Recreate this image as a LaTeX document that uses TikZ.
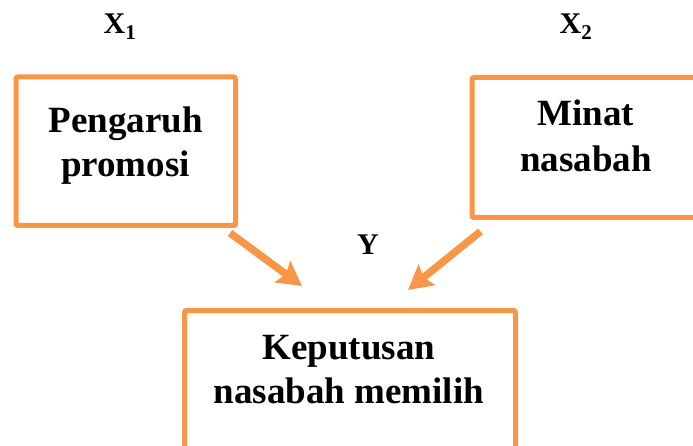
\documentclass[tikz,border=0pt]{standalone}
\usepackage{fontspec}
\setmainfont{Liberation Serif}
\usetikzlibrary{arrows.meta,calc}
\definecolor{boxorange}{HTML}{F79646}
\tikzset{
  varbox/.style={draw=boxorange, line width=5pt, rounded corners=2pt, inner sep=0pt},
  boxtext/.style={font=\bfseries\fontsize{37}{44}\selectfont, align=center, inner sep=0pt},
  vartag/.style={font=\bfseries\fontsize{30}{36}\selectfont, inner sep=0pt, anchor=base},
  influence/.style={draw=boxorange, line width=7.5pt, -{Stealth[length=24pt,width=26pt,inset=4pt]}}
}
\begin{document}
\begin{tikzpicture}[x=1pt, y=-1pt]
  \useasboundingbox (0,0) rectangle (693,446);
  \begin{scope}
    \clip (0,0) rectangle (693,446);
    % the three variable boxes
    \node[varbox, minimum width=219.5pt, minimum height=148.5pt] (promo) at (125.75,151.25) {};
    \node[varbox, minimum width=229pt, minimum height=140pt] (minat) at (586.5,147.5) {};
    \node[varbox, minimum width=331pt, minimum height=160pt] (putus) at (350,390.5) {};
  \end{scope}
  % box texts
  \node[boxtext] (promotxt) at (125.5,146) {Pengaruh\\promosi};
  \node[boxtext] (minattxt) at (586,136) {Minat\\[2pt]nasabah};
  \node[boxtext] (putustxt) at (349,370) {Keputusan\\nasabah memilih};
  % variable labels
  \node[vartag] (x1) at (120,34) {X\textsubscript{1}};
  \node[vartag] (x2) at (576,34) {X\textsubscript{2}};
  \node[vartag] (y) at (368,254.5) {Y};
  % arrows from the independent variables to the decision
  \coordinate (a1s) at ($(promo.south east)+(-8,5)$);
  \coordinate (a1e) at (302,286);
  \coordinate (a2s) at ($(minat.south west)+(11,11.5)$);
  \coordinate (a2e) at (408,290);
  \draw[influence] (a1s) -- (a1e);
  \draw[influence] (a2s) -- (a2e);
\end{tikzpicture}
\end{document}
